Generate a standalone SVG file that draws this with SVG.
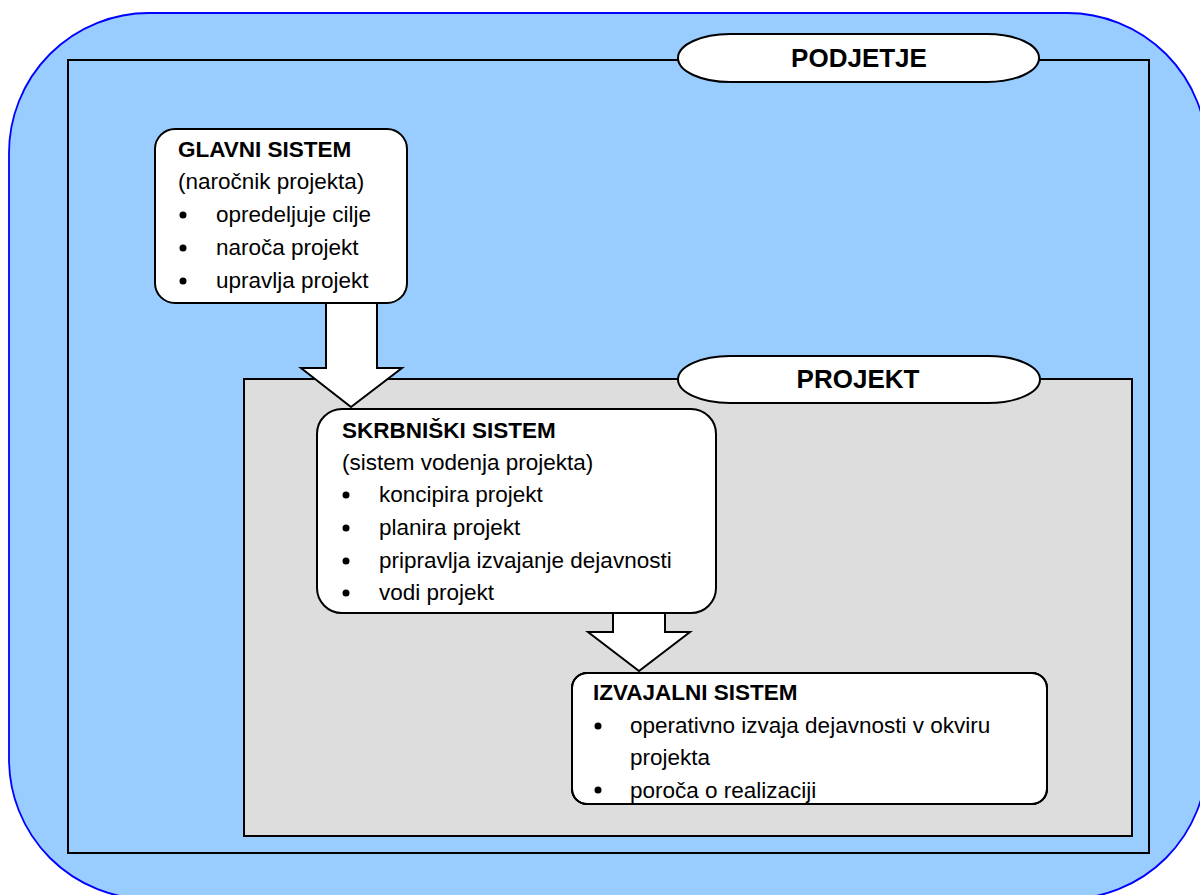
<svg xmlns="http://www.w3.org/2000/svg" width="1200" height="895" viewBox="0 0 1200 895">
  <defs>
    <style>
      .frame { fill: none; stroke: #000; stroke-width: 2; }
      .box { fill: #fff; stroke: #000; stroke-width: 2; }
      .pill { fill: #fff; stroke: #000; stroke-width: 2; }
      .arrow { fill: #fff; stroke: #000; stroke-width: 2; stroke-linejoin: miter; }
      .t { font-family: "Liberation Sans", Arial, sans-serif; font-size: 22.5px; fill: #000; }
      .b { font-weight: bold; }
      .lbl { font-family: "Liberation Sans", Arial, sans-serif; font-size: 26px; font-weight: bold; fill: #000; text-anchor: middle; }
    </style>
    <clipPath id="clipIzv">
      <rect x="572" y="673" width="475" height="131" rx="15"/>
    </clipPath>
  </defs>

  <!-- background -->
  <rect x="0" y="0" width="1200" height="895" fill="#fff"/>

  <!-- outer rounded area -->
  <g id="okolje">
    <rect x="9" y="13" width="1198" height="886" rx="140" ry="140" fill="#99CCFF" stroke="#0000FF" stroke-width="1.8"/>
  </g>

  <!-- company frame -->
  <g id="podjetje">
    <rect class="frame" x="68" y="60" width="1081" height="793"/>
    <path class="pill" d="M730 34 H987 A52 24 0 0 1 987 82 H730 A52 24 0 0 1 730 34 Z"/>
    <text class="lbl" x="859" y="67">PODJETJE</text>
  </g>

  <!-- project frame -->
  <g id="projekt">
    <rect x="244" y="379" width="888" height="457" fill="#DDDDDD" stroke="#000" stroke-width="2"/>
    <path class="pill" d="M730 356 H988 A52 23.5 0 0 1 988 403 H730 A52 23.5 0 0 1 730 356 Z"/>
    <text class="lbl" x="858" y="388">PROJEKT</text>
  </g>

  <!-- block arrows between systems -->
  <g id="povezave">
    <path class="arrow" d="M326 302 H377 V368 H402 L351 407 L301 368 H326 Z"/>
    <path class="arrow" d="M613 612 H665 V632 H690 L639 671 L588 632 H613 Z"/>
  </g>

  <!-- main system -->
  <g id="glavni-sistem">
    <rect class="box" x="155" y="129" width="252" height="174" rx="20"/>
    <text class="t b" x="178" y="157">GLAVNI SISTEM</text>
    <text class="t" x="178" y="189">(naročnik projekta)</text>
    <circle cx="183" cy="215" r="3.5"/>
    <text class="t" x="216" y="222">opredeljuje cilje</text>
    <circle cx="183" cy="248" r="3.5"/>
    <text class="t" x="216" y="255">naroča projekt</text>
    <circle cx="183" cy="281" r="3.5"/>
    <text class="t" x="216" y="288">upravlja projekt</text>
  </g>

  <!-- steering system -->
  <g id="skrbniski-sistem">
    <rect class="box" x="317" y="409" width="399" height="204" rx="25"/>
    <text class="t b" x="342" y="438">SKRBNIŠKI SISTEM</text>
    <text class="t" x="342" y="470">(sistem vodenja projekta)</text>
    <circle cx="346" cy="495" r="3.5"/>
    <text class="t" x="379" y="502">koncipira projekt</text>
    <circle cx="346" cy="528" r="3.5"/>
    <text class="t" x="379" y="535">planira projekt</text>
    <circle cx="346" cy="561" r="3.5"/>
    <text class="t" x="379" y="568">pripravlja izvajanje dejavnosti</text>
    <circle cx="346" cy="593" r="3.5"/>
    <text class="t" x="379" y="600">vodi projekt</text>
  </g>

  <!-- execution system -->
  <g id="izvajalni-sistem">
    <rect class="box" x="572" y="673" width="475" height="131" rx="15"/>
    <g clip-path="url(#clipIzv)">
      <text class="t b" x="593" y="700">IZVAJALNI SISTEM</text>
      <circle cx="598" cy="726" r="3.5"/>
      <text class="t" x="630" y="733">operativno izvaja dejavnosti v okviru</text>
      <text class="t" x="630" y="765">projekta</text>
      <circle cx="598" cy="790" r="3.5"/>
      <text class="t" x="630" y="798">poroča o realizaciji</text>
    </g>
    <rect x="572" y="673" width="475" height="131" rx="15" fill="none" stroke="#000" stroke-width="2"/>
  </g>
</svg>
